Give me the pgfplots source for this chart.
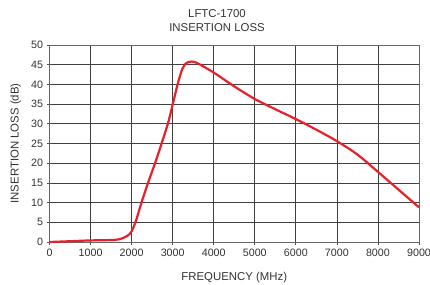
\documentclass[border=0pt]{standalone}
\usepackage{pgfplots}
\pgfplotsset{compat=1.18}
\usepackage{fontspec}
\setmainfont{Liberation Sans}
\definecolor{curvered}{HTML}{E8202A}
\definecolor{txt}{HTML}{333333}
\begin{document}
\begin{tikzpicture}
\begin{axis}[
  scale only axis,
  width=369.5pt, height=197pt,
  xmin=0, xmax=9000, ymin=0, ymax=50,
  xtick={0,1000,...,9000}, ytick={0,5,...,50},
  /pgf/number format/assume math mode=true,
  /pgf/number format/1000 sep={},
  scaled x ticks=false,
  tick label style={font=\fontsize{10.7}{12}\selectfont, text=txt},
  label style={font=\fontsize{11.4}{13}\selectfont, text=txt},
  grid=major,
  major grid style={black!75, line width=0.7pt},
  axis line style={black!60, line width=0.7pt},
  tick style={black!70, line width=0.7pt},
  tick align=outside,
  major tick length=3pt,
  xtick pos=bottom, ytick pos=left,
  xlabel={FREQUENCY (MHz)},
  ylabel={INSERTION LOSS (dB)},
  xlabel style={at={(axis description cs:0.5,-0.182)}, anchor=center},
  ylabel style={at={(axis description cs:-0.0913,0.5)}, anchor=center},
  clip=false,
]
\addplot[curvered, line width=2.2pt, smooth, tension=0.5] coordinates {
(0,0) (500,0.2) (1000,0.4) (1500,0.5) (1700,0.7) (1850,1.3) (1950,2.0) (2000,2.7)
(2100,5.2) (2240,10) (2400,15) (2570,20) (2730,25) (2890,30.3) (3010,35.3) (3120,40)
(3230,43.8) (3330,45.4) (3460,45.8) (3600,45.4) (4000,43) (4500,39.5) (5000,36.3) (5500,33.7)
(6000,31.2) (6500,28.5) (7000,25.6) (7500,22.2) (8000,17.8) (8500,13.3) (9000,8.8)
};
\end{axis}
\node[font=\fontsize{11.4}{14}\selectfont, text=txt, align=center] at (167.5pt,221pt) {LFTC-1700\\INSERTION LOSS};
\pgfresetboundingbox
\path (-49.5pt,-42pt) rectangle (380.5pt,242pt);
\end{tikzpicture}
\end{document}
